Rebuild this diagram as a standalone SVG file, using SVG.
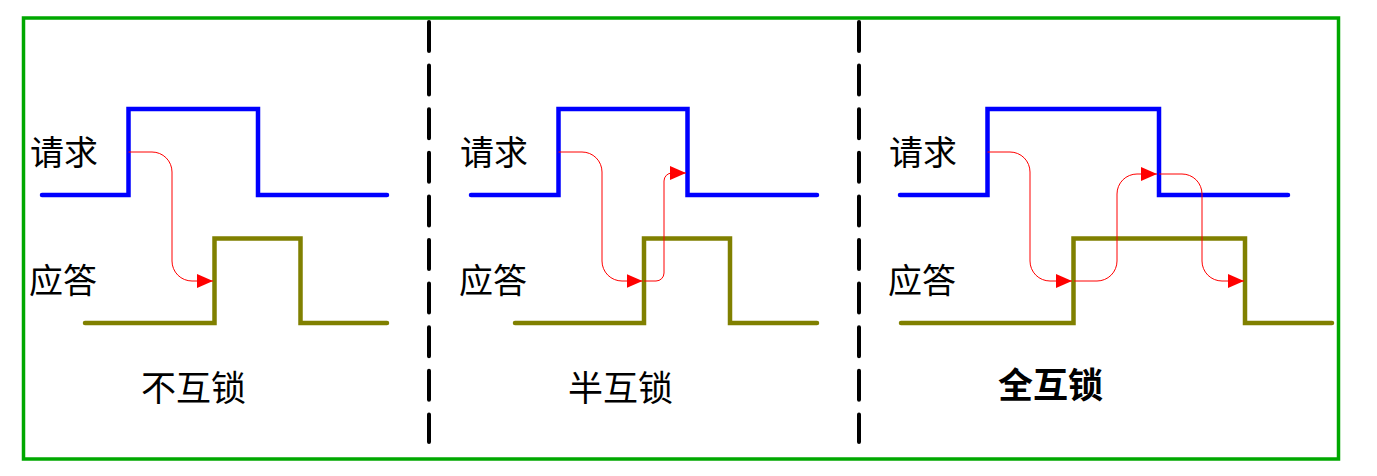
<svg xmlns="http://www.w3.org/2000/svg" width="1377" height="476" viewBox="0 0 1377 476">
<style>
.frame{fill:none;stroke:#00a800;stroke-width:3.5}
.div{fill:none;stroke:#000;stroke-width:4;stroke-dasharray:29 14.6;stroke-linecap:round}
.req{fill:none;stroke:#0000ff;stroke-width:4.5;stroke-linecap:round;stroke-linejoin:miter}
.ack{fill:none;stroke:#808000;stroke-width:4.5;stroke-linecap:round;stroke-linejoin:miter}
.flow{fill:none;stroke:#ff0000;stroke-width:1;marker-end:url(#ah)}
.lbl{font-family:"Liberation Serif","Noto Sans CJK SC",serif;font-size:34px;fill:#000}
.cap{font-family:"Liberation Serif","Noto Sans CJK SC",serif;font-size:35px;fill:#000}
</style>
<defs>
<marker id="ah" viewBox="0 0 16 14" refX="16" refY="7" markerWidth="16" markerHeight="14" markerUnits="userSpaceOnUse" orient="auto">
<path d="M0,0 L16,7 L0,14 Z" fill="#ff0000"/>
</marker>
</defs>
<rect class="frame" x="23.5" y="18" width="1315" height="441"/>
<g id="dividers">
<line class="div" x1="429" y1="22" x2="429" y2="442"/>
<line class="div" x1="859" y1="22" x2="859" y2="442"/>
</g>
<g id="panel-none">
<text class="lbl" x="30" y="165">请求</text>
<text class="lbl" x="29" y="293">应答</text>
<path class="req" d="M42,195 H128.5 V109 H258 V195 H387"/>
<path class="ack" d="M85,323 H214.5 V238.5 H300.5 V323 H387"/>
<text class="cap" x="141" y="401">不互锁</text>
</g>
<g id="panel-half">
<text class="lbl" x="460" y="165">请求</text>
<text class="lbl" x="459" y="293">应答</text>
<path class="req" d="M471,195 H558.5 V109 H687.5 V195 H817"/>
<path class="ack" d="M515,323 H644 V238.5 H730 V323 H817"/>
<text class="cap" x="568" y="401">半互锁</text>
</g>
<g id="panel-full">
<text class="lbl" x="889" y="165">请求</text>
<text class="lbl" x="888" y="293">应答</text>
<path class="req" d="M900,195 H987.5 V109 H1159 V195 H1288"/>
<path class="ack" d="M901,323 H1073.5 V238.5 H1245 V323 H1332"/>
<text class="cap" x="998" y="398" font-weight="bold">全互锁</text>
</g>
<g id="connectors">
<path class="flow" d="M128.5,152 H152 A20 20 0 0 1 172 172 V261 A20 20 0 0 0 192 281 H213"/>
<path class="flow" d="M558.5,152 H582 A20 20 0 0 1 602 172 V261 A20 20 0 0 0 622 281 H642.5"/>
<path class="flow" d="M644,281 H656 A8 8 0 0 0 664 273 V181 A8 8 0 0 1 672 173 H686"/>
<path class="flow" d="M987.5,152 H1010 A20 20 0 0 1 1030 172 V261 A20 20 0 0 0 1050 281 H1072"/>
<path class="flow" d="M1074,281 H1097 A20 20 0 0 0 1117 261 V194 A20 20 0 0 1 1137 174 H1157"/>
<path class="flow" d="M1159,174 H1182 A20 20 0 0 1 1202 194 V261 A20 20 0 0 0 1222 281 H1244"/>
</g>
</svg>
